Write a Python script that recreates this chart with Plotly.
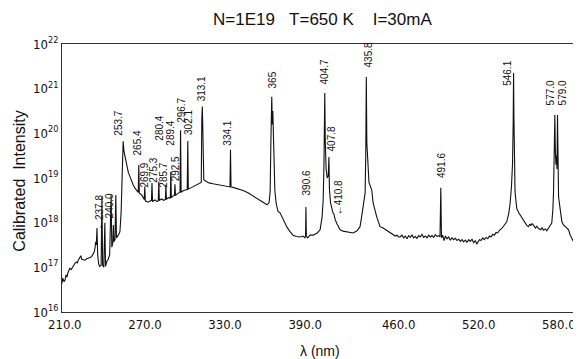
import plotly.graph_objects as go

# ---- spectrum trace (wavelength in nm, log10 of calibrated intensity) ----
wavelength_nm = [
    207.9, 208.4, 209.4, 210.2, 210.9, 211.6, 212.6, 213.9, 214.8, 215.9, 216.8, 217.6, 218.6, 219.4,
    220.1, 220.8, 221.4, 222.0, 222.7, 223.8, 225.1, 226.4, 227.6, 228.9, 230.1, 230.8, 231.3, 232.1,
    232.7, 233.1, 233.6, 234.1, 234.6, 235.3, 236.2, 237.2, 237.8, 238.3, 239.2, 240.0, 240.5, 241.4,
    242.5, 243.6, 244.7, 245.2, 246.0, 246.4, 246.8, 247.6, 248.2, 248.7, 250.1, 251.3, 252.2, 253.0,
    253.7, 254.3, 255.1, 256.4, 257.6, 258.8, 260.0, 261.3, 262.8, 264.3, 265.0, 265.4, 265.8, 267.6,
    269.5, 269.9, 270.3, 272.3, 274.0, 274.9, 275.3, 275.7, 277.6, 279.0, 280.0, 280.4, 280.8, 282.5,
    284.0, 285.3, 285.7, 286.1, 287.5, 289.0, 289.4, 289.8, 291.0, 292.1, 292.5, 292.9, 294.5, 296.3,
    296.7, 297.1, 299.0, 301.7, 302.1, 302.5, 305.0, 308.0, 310.5, 312.2, 312.6, 313.0, 313.3, 313.6,
    314.1, 316.0, 318.0, 321.0, 324.0, 328.0, 331.5, 333.7, 334.1, 334.5, 336.0, 340.0, 343.5, 347.2,
    351.0, 354.7, 358.5, 361.5, 363.0, 363.8, 364.4, 365.0, 365.4, 365.8, 366.3, 366.8, 367.3, 368.3,
    369.7, 371.2, 373.5, 376.4, 378.7, 380.9, 383.5, 386.2, 388.4, 389.8, 390.3, 390.6, 390.9, 391.8,
    393.7, 396.0, 399.0, 401.2, 402.7, 403.5, 404.1, 404.7, 405.1, 405.7, 406.5, 407.3, 407.8, 408.2,
    409.0, 410.0, 410.8, 411.5, 412.4, 413.9, 416.2, 418.4, 421.4, 423.6, 425.9, 428.9, 431.1, 432.3,
    433.6, 434.9, 435.4, 435.8, 436.2, 436.8, 437.8, 439.9, 440.9, 443.6, 446.1, 448.4, 451.4, 453.6,
    455.9, 457.5, 458.9, 460.0, 461.1, 462.5, 463.8, 465.0, 466.3, 467.5, 468.8, 470.0, 471.2, 472.5,
    473.7, 475.0, 476.2, 477.5, 478.7, 480.0, 481.3, 482.5, 483.8, 485.0, 486.3, 487.5, 488.8, 490.0,
    491.0, 491.6, 492.1, 493.0, 494.0, 495.0, 496.2, 497.5, 498.7, 500.0, 501.2, 502.5, 503.7, 505.0,
    506.2, 507.5, 508.7, 510.0, 511.2, 512.5, 513.7, 515.0, 516.2, 517.5, 518.5, 519.5, 520.5, 521.7,
    523.0, 524.2, 525.5, 526.8, 528.0, 529.2, 530.5, 531.7, 533.0, 534.2, 535.5, 537.3, 539.0, 541.0,
    542.5, 543.5, 544.5, 545.3, 545.8, 546.1, 546.4, 546.8, 547.2, 547.8, 548.5, 550.0, 551.0, 552.2,
    553.4, 555.0, 556.0, 557.2, 558.3, 559.0, 560.0, 560.9, 562.5, 563.5, 564.7, 566.5, 567.5, 568.4,
    570.0, 571.0, 572.2, 574.0, 574.7, 575.5, 576.0, 576.5, 577.0, 577.4, 577.8, 578.2, 578.6, 579.0,
    579.4, 579.8, 581.1, 582.3, 583.5, 584.8, 586.0, 587.3, 588.5, 589.8, 591.0, 592.4, 593.0, 593.6,
    594.2, 594.8, 595.4, 596.1, 596.6,
]
log_intensity = [
    16.64, 16.76, 16.68, 16.72, 16.83, 16.78, 16.90, 16.98, 16.95, 17.01, 17.06, 17.09, 17.12, 17.10,
    17.16, 17.20, 17.22, 17.26, 17.18, 17.17, 17.16, 17.19, 17.20, 17.22, 17.24, 17.28, 17.31, 17.35,
    17.45, 17.57, 17.50, 17.88, 17.30, 17.08, 17.02, 17.04, 18.58, 17.05, 17.00, 18.00, 17.02, 17.13,
    17.18, 17.28, 18.62, 17.45, 17.55, 17.95, 17.58, 17.62, 18.62, 17.66, 17.72, 17.80, 18.25, 19.00,
    19.82, 19.60, 19.48, 19.25, 19.12, 19.03, 18.93, 18.84, 18.76, 18.69, 18.68, 19.29, 18.66, 18.62,
    18.52, 18.81, 18.49, 18.46, 18.48, 18.50, 18.89, 18.48, 18.51, 18.47, 18.49, 18.92, 18.50, 18.53,
    18.50, 18.52, 18.85, 18.52, 18.56, 18.55, 19.14, 18.56, 18.60, 18.61, 18.86, 18.61, 18.65, 18.68,
    20.07, 18.68, 18.72, 18.74, 19.83, 18.75, 18.79, 18.84, 18.87, 18.90, 20.30, 20.60, 20.20, 19.40,
    18.96, 18.92, 18.89, 18.87, 18.85, 18.83, 18.81, 18.80, 19.63, 18.80, 18.79, 18.76, 18.72, 18.67,
    18.60, 18.53, 18.45, 18.40, 18.45, 18.70, 19.90, 20.82, 20.20, 20.50, 19.90, 19.10, 18.73, 18.43,
    18.25, 18.22, 18.08, 17.90, 17.80, 17.72, 17.69, 17.68, 17.70, 17.66, 17.71, 18.35, 17.70, 17.66,
    17.72, 17.72, 17.77, 17.84, 18.13, 18.50, 19.30, 20.90, 19.80, 19.20, 19.00, 19.05, 19.47, 18.75,
    18.45, 18.30, 18.22, 18.20, 18.08, 17.97, 17.84, 17.81, 17.79, 17.78, 17.77, 17.82, 17.91, 18.13,
    18.36, 18.66, 19.50, 21.26, 19.80, 19.30, 18.90, 18.73, 18.44, 18.13, 17.91, 17.88, 17.82, 17.78,
    17.75, 17.70, 17.72, 17.68, 17.68, 17.72, 17.66, 17.70, 17.64, 17.71, 17.67, 17.73, 17.66, 17.69,
    17.65, 17.71, 17.68, 17.74, 17.67, 17.70, 17.66, 17.72, 17.68, 17.71, 17.67, 17.73, 17.69, 17.71,
    17.68, 18.78, 17.66, 17.72, 17.60, 17.70, 17.64, 17.68, 17.61, 17.66, 17.62, 17.65, 17.60, 17.63,
    17.58, 17.62, 17.57, 17.61, 17.56, 17.62, 17.58, 17.63, 17.55, 17.60, 17.52, 17.58, 17.62, 17.60,
    17.66, 17.62, 17.67, 17.64, 17.70, 17.68, 17.74, 17.72, 17.78, 17.77, 17.83, 17.87, 17.95, 18.02,
    18.21, 18.43, 18.80, 19.30, 20.20, 21.35, 20.30, 19.20, 18.70, 18.51, 18.32, 18.22, 18.17, 18.10,
    18.06, 17.98, 17.94, 17.91, 17.97, 17.93, 17.98, 17.95, 17.88, 17.92, 17.87, 17.84, 17.89, 17.83,
    17.86, 17.82, 17.87, 17.95, 17.99, 18.28, 18.66, 19.50, 20.41, 19.60, 19.30, 19.50, 19.20, 20.41,
    19.30, 18.58, 18.28, 18.02, 17.95, 17.91, 17.86, 17.84, 17.72, 17.65, 17.57, 17.54, 17.45, 17.39,
    17.48, 17.46, 17.35, 17.35, 17.42,
]

# ---- line labels: text, wavelength position, log10 height of the label's lower end ----
label_text = ["\u2190237.8", "240.0", "253.7", "265.4", "269.9", "275.3", "280.4", "285.7", "289.4",
              "292.5", "296.7", "302.1", "313.1", "334.1", "365", "390.6", "404.7", "407.8",
              "\u2190410.8", "435.8", "491.6", "546.1", "577.0", "579.0"]
label_x = [236.0, 243.1, 250.1, 264.8, 270.1, 276.8, 281.3, 283.6, 289.5,
           292.5, 297.4, 302.7, 312.0, 332.2, 365.9, 391.2, 404.2, 410.1,
           414.6, 437.1, 492.3, 542.0, 573.4, 582.4]
label_logy = [17.79, 18.04, 19.90, 19.47, 18.73, 18.84, 19.78, 18.73, 19.69,
              18.89, 20.19, 19.92, 20.66, 19.69, 20.97, 18.57, 21.04, 19.56,
              18.13, 21.42, 18.96, 21.01, 20.57, 20.57]

x_tick_vals = [210, 270, 330, 390, 460, 520, 580]
x_tick_text = ["210.0", "270.0", "330.0", "390.0", "460.0", "520.0", "580.0"]
y_tick_vals = [1e16, 1e17, 1e18, 1e19, 1e20, 1e21, 1e22]
y_tick_text = ["10<sup>16</sup>", "10<sup>17</sup>", "10<sup>18</sup>", "10<sup>19</sup>",
               "10<sup>20</sup>", "10<sup>21</sup>", "10<sup>22</sup>"]

title_text = "N=1E19\u00a0\u00a0\u00a0T=650 K\u00a0\u00a0\u00a0\u00a0I=30mA"
x_title = "\u03bb (nm)"
y_title = "Calibrated\u00a0\u00a0Intensity"

intensity = [10 ** v for v in log_intensity]

INK = "#111111"
NARROW = "Liberation Sans Narrow, DejaVu Sans Condensed, Liberation Sans, Arial, sans-serif"
SANS = "Liberation Sans, Arial, Helvetica, sans-serif"

fig = go.Figure()
fig.add_trace(go.Scatter(x=wavelength_nm, y=intensity, mode="lines",
                         line=dict(color=INK, width=1.1), hoverinfo="skip", showlegend=False))

annotations = []
for t, x, y in zip(label_text, label_x, label_logy):
    annotations.append(dict(x=x, y=y, xref="x", yref="y", text=t, textangle=-90, showarrow=False,
                            xanchor="center", yanchor="bottom",
                            font=dict(size=10, color=INK, family=SANS)))
annotations.append(dict(x=0.501, y=1.09, xref="paper", yref="paper", text=title_text,
                        showarrow=False, xanchor="center", yanchor="middle",
                        font=dict(size=17, color=INK, family=SANS)))
annotations.append(dict(x=-0.081, y=0.49, xref="paper", yref="paper", text=y_title,
                        textangle=-90, showarrow=False, xanchor="center", yanchor="middle",
                        font=dict(size=16, color=INK, family=SANS)))
annotations.append(dict(x=0.497, y=-0.145, xref="paper", yref="paper", text=x_title,
                        showarrow=False, xanchor="center", yanchor="middle",
                        font=dict(size=14, color=INK, family=SANS)))

# the page body adds an 8 px margin, so the figure is 8 px smaller and its margins shifted
fig.update_layout(
    width=573, height=351,
    margin=dict(l=54, r=0, t=36, b=47),
    paper_bgcolor="white", plot_bgcolor="white",
    showlegend=False,
    annotations=annotations,
    shapes=[dict(type="line", xref="paper", yref="y", x0=0.99, x1=1.0, y0=18, y1=18,
                 line=dict(color="#333333", width=1))],
    xaxis=dict(range=[207.9, 596.6], showline=True, linecolor="#333333", linewidth=1, mirror=True,
               showgrid=False, zeroline=False, ticks="", tickvals=x_tick_vals, ticktext=x_tick_text,
               tickfont=dict(size=13, color=INK, family=NARROW)),
    yaxis=dict(type="log", range=[16, 22], showline=True, linecolor="#333333", linewidth=1,
               mirror=False, showgrid=False, zeroline=False, ticks="", tickvals=y_tick_vals,
               ticktext=y_tick_text, tickfont=dict(size=13, color=INK, family=NARROW)),
)

fig.write_html("out.html")
